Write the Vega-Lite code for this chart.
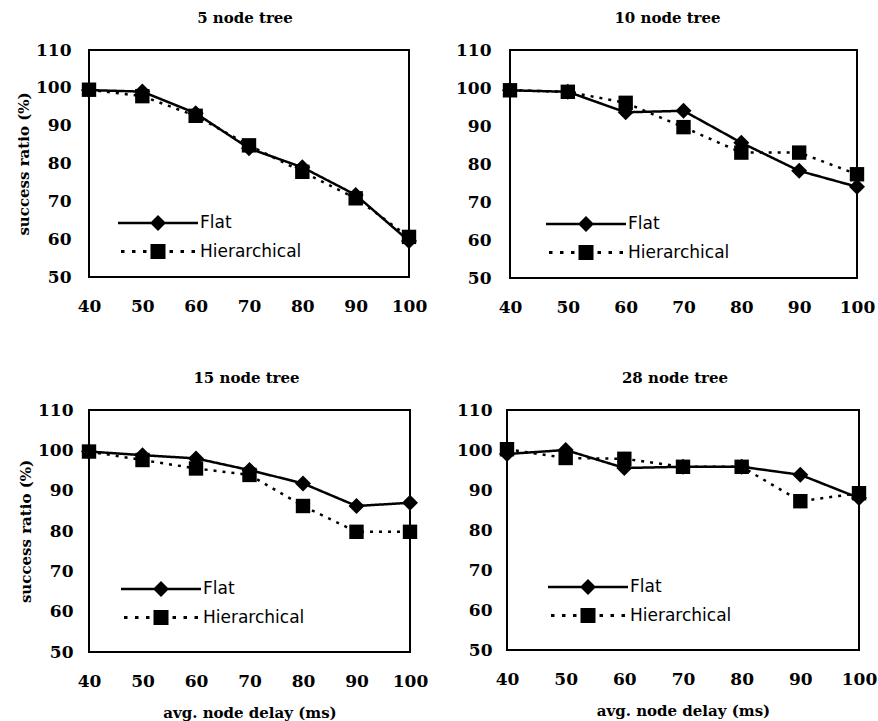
{
  "$schema": "https://vega.github.io/schema/vega-lite/v6.json",
  "padding": {"left": 15, "top": 10, "right": 0, "bottom": 0},
  "background": "white",
  "config": {
    "view": {"stroke": "black", "strokeWidth": 2},
    "axis": {"domain": false, "ticks": false, "grid": false, "labelFlush": false, "labelOverlap": false, "labelFont": "DejaVu Serif", "labelFontWeight": "bold", "labelFontSize": 17, "labelColor": "black", "titleFont": "DejaVu Serif", "titleFontWeight": "bold", "titleFontSize": 15, "titleColor": "black"},
    "title": {"font": "DejaVu Serif", "fontWeight": "bold", "fontSize": 15, "color": "black", "offset": 15},
    "legend": {"title": null, "orient": "none", "padding": 0, "symbolSize": 400, "symbolStrokeWidth": 0, "labelFont": "DejaVu Sans", "labelFontSize": 17, "labelColor": "black", "labelOffset": 32, "rowPadding": 10.5}
  },
  "data": {"values": [
    {"panel": "5", "delay": 40, "scheme": "Flat", "ratio": 99.4},
    {"panel": "5", "delay": 50, "scheme": "Flat", "ratio": 99.0},
    {"panel": "5", "delay": 60, "scheme": "Flat", "ratio": 93.3},
    {"panel": "5", "delay": 70, "scheme": "Flat", "ratio": 84.0},
    {"panel": "5", "delay": 80, "scheme": "Flat", "ratio": 79.0},
    {"panel": "5", "delay": 90, "scheme": "Flat", "ratio": 71.7},
    {"panel": "5", "delay": 100, "scheme": "Flat", "ratio": 59.5},
    {"panel": "5", "delay": 40, "scheme": "Hierarchical", "ratio": 99.5},
    {"panel": "5", "delay": 50, "scheme": "Hierarchical", "ratio": 97.8},
    {"panel": "5", "delay": 60, "scheme": "Hierarchical", "ratio": 92.6},
    {"panel": "5", "delay": 70, "scheme": "Hierarchical", "ratio": 84.8},
    {"panel": "5", "delay": 80, "scheme": "Hierarchical", "ratio": 77.8},
    {"panel": "5", "delay": 90, "scheme": "Hierarchical", "ratio": 70.8},
    {"panel": "5", "delay": 100, "scheme": "Hierarchical", "ratio": 60.6},
    {"panel": "10", "delay": 40, "scheme": "Flat", "ratio": 99.4},
    {"panel": "10", "delay": 50, "scheme": "Flat", "ratio": 99.0},
    {"panel": "10", "delay": 60, "scheme": "Flat", "ratio": 93.6},
    {"panel": "10", "delay": 70, "scheme": "Flat", "ratio": 94.0},
    {"panel": "10", "delay": 80, "scheme": "Flat", "ratio": 85.6},
    {"panel": "10", "delay": 90, "scheme": "Flat", "ratio": 78.2},
    {"panel": "10", "delay": 100, "scheme": "Flat", "ratio": 74.0},
    {"panel": "10", "delay": 40, "scheme": "Hierarchical", "ratio": 99.4},
    {"panel": "10", "delay": 50, "scheme": "Hierarchical", "ratio": 99.0},
    {"panel": "10", "delay": 60, "scheme": "Hierarchical", "ratio": 96.1},
    {"panel": "10", "delay": 70, "scheme": "Hierarchical", "ratio": 89.7},
    {"panel": "10", "delay": 80, "scheme": "Hierarchical", "ratio": 83.0},
    {"panel": "10", "delay": 90, "scheme": "Hierarchical", "ratio": 83.0},
    {"panel": "10", "delay": 100, "scheme": "Hierarchical", "ratio": 77.3},
    {"panel": "15", "delay": 40, "scheme": "Flat", "ratio": 99.7},
    {"panel": "15", "delay": 50, "scheme": "Flat", "ratio": 98.8},
    {"panel": "15", "delay": 60, "scheme": "Flat", "ratio": 98.0},
    {"panel": "15", "delay": 70, "scheme": "Flat", "ratio": 95.1},
    {"panel": "15", "delay": 80, "scheme": "Flat", "ratio": 91.8},
    {"panel": "15", "delay": 90, "scheme": "Flat", "ratio": 86.2},
    {"panel": "15", "delay": 100, "scheme": "Flat", "ratio": 87.0},
    {"panel": "15", "delay": 40, "scheme": "Hierarchical", "ratio": 99.7},
    {"panel": "15", "delay": 50, "scheme": "Hierarchical", "ratio": 97.6},
    {"panel": "15", "delay": 60, "scheme": "Hierarchical", "ratio": 95.5},
    {"panel": "15", "delay": 70, "scheme": "Hierarchical", "ratio": 93.9},
    {"panel": "15", "delay": 80, "scheme": "Hierarchical", "ratio": 86.2},
    {"panel": "15", "delay": 90, "scheme": "Hierarchical", "ratio": 79.8},
    {"panel": "15", "delay": 100, "scheme": "Hierarchical", "ratio": 79.8},
    {"panel": "28", "delay": 40, "scheme": "Flat", "ratio": 99.0},
    {"panel": "28", "delay": 50, "scheme": "Flat", "ratio": 100.0},
    {"panel": "28", "delay": 60, "scheme": "Flat", "ratio": 95.5},
    {"panel": "28", "delay": 70, "scheme": "Flat", "ratio": 95.8},
    {"panel": "28", "delay": 80, "scheme": "Flat", "ratio": 95.8},
    {"panel": "28", "delay": 90, "scheme": "Flat", "ratio": 93.8},
    {"panel": "28", "delay": 100, "scheme": "Flat", "ratio": 88.0},
    {"panel": "28", "delay": 40, "scheme": "Hierarchical", "ratio": 100.2},
    {"panel": "28", "delay": 50, "scheme": "Hierarchical", "ratio": 98.0},
    {"panel": "28", "delay": 60, "scheme": "Hierarchical", "ratio": 97.8},
    {"panel": "28", "delay": 70, "scheme": "Hierarchical", "ratio": 95.8},
    {"panel": "28", "delay": 80, "scheme": "Hierarchical", "ratio": 95.8},
    {"panel": "28", "delay": 90, "scheme": "Hierarchical", "ratio": 87.2},
    {"panel": "28", "delay": 100, "scheme": "Hierarchical", "ratio": 89.2}
  ]},
  "resolve": {"scale": {"strokeDash": "independent", "shape": "independent"}, "legend": {"strokeDash": "independent", "shape": "independent"}},
  "spacing": 54,
  "vconcat": [
    {
      "spacing": 26,
      "resolve": {"scale": {"strokeDash": "independent", "shape": "independent"}, "legend": {"strokeDash": "independent", "shape": "independent"}},
      "hconcat": [
        {
          "title": {"text": "5 node tree", "dx": -4},
          "width": 320, "height": 227,
          "transform": [{"filter": "datum.panel === '5'"}],
          "encoding": {
            "x": {"field": "delay", "type": "quantitative", "scale": {"domain": [40, 100]}, "axis": {"values": [40, 50, 60, 70, 80, 90, 100], "title": null, "labelPadding": 21}},
            "y": {"field": "ratio", "type": "quantitative", "scale": {"domain": [50, 110]}, "axis": {"values": [50, 60, 70, 80, 90, 100, 110], "title": "success ratio (%)", "labelPadding": 18, "titlePadding": 4}}
          },
          "resolve": {"scale": {"strokeDash": "independent", "shape": "independent"}, "legend": {"strokeDash": "independent", "shape": "independent"}},
          "layer": [
            {"mark": {"type": "line", "color": "black", "strokeWidth": 2.5},
             "encoding": {"strokeDash": {"field": "scheme", "type": "nominal", "scale": {"domain": ["Flat", "Hierarchical"], "range": [[1, 0], [3, 6]]}, "legend": null}}},
            {"mark": {"type": "point", "filled": true, "color": "black", "opacity": 1, "size": 256},
             "encoding": {"shape": {"field": "scheme", "type": "nominal", "scale": {"domain": ["Flat", "Hierarchical"], "range": ["M-1,0L0,-1L1,0L0,1Z", "M-0.9,-0.9H0.9V0.9H-0.9Z"]}, "legend": null}}},
            {"transform": [{"filter": "false"}],
             "mark": {"type": "point", "filled": true, "color": "black", "opacity": 1},
             "encoding": {
               "shape": {"field": "scheme", "type": "nominal", "scale": {"domain": ["Flat", "Hierarchical"], "range": ["M-4,-0.13H4V0.13H-4Z M-0.8,0L0,-0.8L0.8,0L0,0.8Z", "M-0.75,-0.75H0.75V0.75H-0.75Z M-3.7,-0.15H-3.35V0.15H-3.7Z M-2.6,-0.15H-2.25V0.15H-2.6Z M-1.5,-0.15H-1.15V0.15H-1.5Z M1.15,-0.15H1.5V0.15H1.15Z M2.25,-0.15H2.6V0.15H2.25Z M3.35,-0.15H3.7V0.15H3.35Z"]},
                 "legend": {"legendX": 59, "legendY": 163}}
             }}
          ]
        },
        {
          "title": {"text": "10 node tree", "dx": -16},
          "width": 347, "height": 228,
          "transform": [{"filter": "datum.panel === '10'"}],
          "encoding": {
            "x": {"field": "delay", "type": "quantitative", "scale": {"domain": [40, 100]}, "axis": {"values": [40, 50, 60, 70, 80, 90, 100], "title": null, "labelPadding": 21}},
            "y": {"field": "ratio", "type": "quantitative", "scale": {"domain": [50, 110]}, "axis": {"values": [50, 60, 70, 80, 90, 100, 110], "title": null, "labelPadding": 19}}
          },
          "resolve": {"scale": {"strokeDash": "independent", "shape": "independent"}, "legend": {"strokeDash": "independent", "shape": "independent"}},
          "layer": [
            {"mark": {"type": "line", "color": "black", "strokeWidth": 2.5},
             "encoding": {"strokeDash": {"field": "scheme", "type": "nominal", "scale": {"domain": ["Flat", "Hierarchical"], "range": [[1, 0], [3, 6]]}, "legend": null}}},
            {"mark": {"type": "point", "filled": true, "color": "black", "opacity": 1, "size": 256},
             "encoding": {"shape": {"field": "scheme", "type": "nominal", "scale": {"domain": ["Flat", "Hierarchical"], "range": ["M-1,0L0,-1L1,0L0,1Z", "M-0.9,-0.9H0.9V0.9H-0.9Z"]}, "legend": null}}},
            {"transform": [{"filter": "false"}],
             "mark": {"type": "point", "filled": true, "color": "black", "opacity": 1},
             "encoding": {
               "shape": {"field": "scheme", "type": "nominal", "scale": {"domain": ["Flat", "Hierarchical"], "range": ["M-4,-0.13H4V0.13H-4Z M-0.8,0L0,-0.8L0.8,0L0,0.8Z", "M-0.75,-0.75H0.75V0.75H-0.75Z M-3.7,-0.15H-3.35V0.15H-3.7Z M-2.6,-0.15H-2.25V0.15H-2.6Z M-1.5,-0.15H-1.15V0.15H-1.5Z M1.15,-0.15H1.5V0.15H1.15Z M2.25,-0.15H2.6V0.15H2.25Z M3.35,-0.15H3.7V0.15H3.35Z"]},
                 "legend": {"legendX": 66, "legendY": 164}}
             }}
          ]
        }
      ]
    },
    {
      "spacing": 26,
      "resolve": {"scale": {"strokeDash": "independent", "shape": "independent"}, "legend": {"strokeDash": "independent", "shape": "independent"}},
      "hconcat": [
        {
          "title": {"text": "15 node tree", "dx": -3},
          "width": 321, "height": 242,
          "transform": [{"filter": "datum.panel === '15'"}],
          "encoding": {
            "x": {"field": "delay", "type": "quantitative", "scale": {"domain": [40, 100]}, "axis": {"values": [40, 50, 60, 70, 80, 90, 100], "title": "avg. node delay (ms)", "labelPadding": 21, "titlePadding": 16}},
            "y": {"field": "ratio", "type": "quantitative", "scale": {"domain": [50, 110]}, "axis": {"values": [50, 60, 70, 80, 90, 100, 110], "title": "success ratio (%)", "labelPadding": 16, "titlePadding": 4}}
          },
          "resolve": {"scale": {"strokeDash": "independent", "shape": "independent"}, "legend": {"strokeDash": "independent", "shape": "independent"}},
          "layer": [
            {"mark": {"type": "line", "color": "black", "strokeWidth": 2.5},
             "encoding": {"strokeDash": {"field": "scheme", "type": "nominal", "scale": {"domain": ["Flat", "Hierarchical"], "range": [[1, 0], [3, 6]]}, "legend": null}}},
            {"mark": {"type": "point", "filled": true, "color": "black", "opacity": 1, "size": 256},
             "encoding": {"shape": {"field": "scheme", "type": "nominal", "scale": {"domain": ["Flat", "Hierarchical"], "range": ["M-1,0L0,-1L1,0L0,1Z", "M-0.9,-0.9H0.9V0.9H-0.9Z"]}, "legend": null}}},
            {"transform": [{"filter": "false"}],
             "mark": {"type": "point", "filled": true, "color": "black", "opacity": 1},
             "encoding": {
               "shape": {"field": "scheme", "type": "nominal", "scale": {"domain": ["Flat", "Hierarchical"], "range": ["M-4,-0.13H4V0.13H-4Z M-0.8,0L0,-0.8L0.8,0L0,0.8Z", "M-0.75,-0.75H0.75V0.75H-0.75Z M-3.7,-0.15H-3.35V0.15H-3.7Z M-2.6,-0.15H-2.25V0.15H-2.6Z M-1.5,-0.15H-1.15V0.15H-1.5Z M1.15,-0.15H1.5V0.15H1.15Z M2.25,-0.15H2.6V0.15H2.25Z M3.35,-0.15H3.7V0.15H3.35Z"]},
                 "legend": {"legendX": 62, "legendY": 169}}
             }}
          ]
        },
        {
          "title": {"text": "28 node tree", "dx": -8},
          "width": 352, "height": 240,
          "transform": [{"filter": "datum.panel === '28'"}],
          "encoding": {
            "x": {"field": "delay", "type": "quantitative", "scale": {"domain": [40, 100]}, "axis": {"values": [40, 50, 60, 70, 80, 90, 100], "title": "avg. node delay (ms)", "labelPadding": 21, "titlePadding": 16}},
            "y": {"field": "ratio", "type": "quantitative", "scale": {"domain": [50, 110]}, "axis": {"values": [50, 60, 70, 80, 90, 100, 110], "title": null, "labelPadding": 15}}
          },
          "resolve": {"scale": {"strokeDash": "independent", "shape": "independent"}, "legend": {"strokeDash": "independent", "shape": "independent"}},
          "layer": [
            {"mark": {"type": "line", "color": "black", "strokeWidth": 2.5},
             "encoding": {"strokeDash": {"field": "scheme", "type": "nominal", "scale": {"domain": ["Flat", "Hierarchical"], "range": [[1, 0], [3, 6]]}, "legend": null}}},
            {"mark": {"type": "point", "filled": true, "color": "black", "opacity": 1, "size": 256},
             "encoding": {"shape": {"field": "scheme", "type": "nominal", "scale": {"domain": ["Flat", "Hierarchical"], "range": ["M-1,0L0,-1L1,0L0,1Z", "M-0.9,-0.9H0.9V0.9H-0.9Z"]}, "legend": null}}},
            {"transform": [{"filter": "false"}],
             "mark": {"type": "point", "filled": true, "color": "black", "opacity": 1},
             "encoding": {
               "shape": {"field": "scheme", "type": "nominal", "scale": {"domain": ["Flat", "Hierarchical"], "range": ["M-4,-0.13H4V0.13H-4Z M-0.8,0L0,-0.8L0.8,0L0,0.8Z", "M-0.75,-0.75H0.75V0.75H-0.75Z M-3.7,-0.15H-3.35V0.15H-3.7Z M-2.6,-0.15H-2.25V0.15H-2.6Z M-1.5,-0.15H-1.15V0.15H-1.5Z M1.15,-0.15H1.5V0.15H1.15Z M2.25,-0.15H2.6V0.15H2.25Z M3.35,-0.15H3.7V0.15H3.35Z"]},
                 "legend": {"legendX": 71, "legendY": 167}}
             }}
          ]
        }
      ]
    }
  ]
}
